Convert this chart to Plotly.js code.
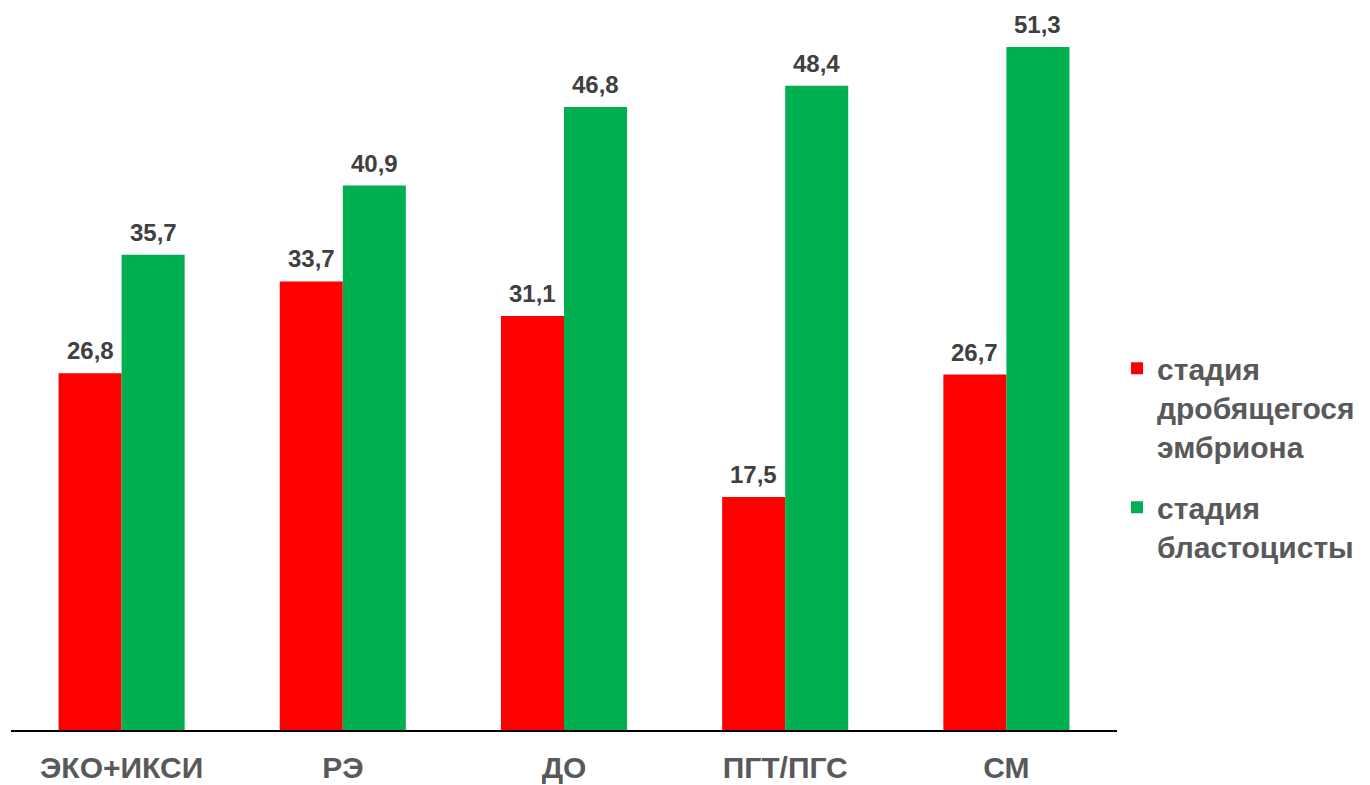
<!DOCTYPE html>
<html>
<head>
<meta charset="utf-8">
<script src="https://cdn.plot.ly/plotly-3.0.1.min.js"></script>
<style>html,body{margin:0;padding:0;background:#fff;}#chart{width:1370px;height:785px;}</style>
</head>
<body>
<div id="chart"></div>
<script>
const categories = ["ЭКО+ИКСИ", "РЭ", "ДО", "ПГТ/ПГС", "СМ"];
const cleavageName = "стадия<br>дробящегося<br>эмбриона";
const blastName = "стадия<br>бластоцисты";
const cleavageValues = [26.8, 33.7, 31.1, 17.5, 26.7];
const blastValues = [35.7, 40.9, 46.8, 48.4, 51.3];

const FONT = "Arial, 'Liberation Sans', sans-serif";
const labelFont = {family: FONT, size: 24, color: "#404040", weight: "bold"};

const traces = [
  {type: "bar", x: categories, y: cleavageValues, name: cleavageName, legendgroup: "a",
   marker: {color: "#FF0000"}, hoverinfo: "x+y"},
  {type: "bar", x: categories, y: blastValues, name: blastName, legendgroup: "b",
   marker: {color: "#00B050"}, hoverinfo: "x+y"}
];

const fmt = v => v.toFixed(1).replace(".", ",");
const annotations = [];
categories.forEach((c, i) => {
  annotations.push({x: c, y: cleavageValues[i], xref: "x", yref: "y", text: "<b>" + fmt(cleavageValues[i]) + "</b>",
    showarrow: false, xanchor: "center", yanchor: "bottom", xshift: -31.5, yshift: 7, font: labelFont});
  annotations.push({x: c, y: blastValues[i], xref: "x", yref: "y", text: "<b>" + fmt(blastValues[i]) + "</b>",
    showarrow: false, xanchor: "center", yanchor: "bottom", xshift: 31.5, yshift: 7, font: labelFont});
});

const layout = {
  width: 1370, height: 785,
  margin: {l: 11, r: 253, t: 0, b: 55, pad: 0},
  paper_bgcolor: "#fff", plot_bgcolor: "#fff",
  separators: ", ",
  barmode: "group", bargap: 0.43, bargroupgap: 0,
  xaxis: {
    type: "category", showline: true, linecolor: "#000", linewidth: 1.5,
    showgrid: false, ticks: "", zeroline: false,
    tickfont: {family: FONT, size: 30, color: "#595959", weight: "bold"},
    ticklabelstandoff: 10
  },
  yaxis: {range: [0, 54.84], visible: false, showgrid: false, zeroline: false},
  annotations: annotations,
  showlegend: true,
  legend: {
    x: 1.0, xanchor: "left", xref: "paper", y: 0.531, yanchor: "top",
    traceorder: "grouped", tracegroupgap: 19, valign: "top",
    font: {family: FONT, size: 30, color: "#595959", weight: "bold"},
    itemwidth: 30, bgcolor: "rgba(0,0,0,0)"
  },
  font: {family: FONT}
};

Plotly.newPlot("chart", traces, layout, {displayModeBar: false, staticPlot: true});
</script>
</body>
</html>
